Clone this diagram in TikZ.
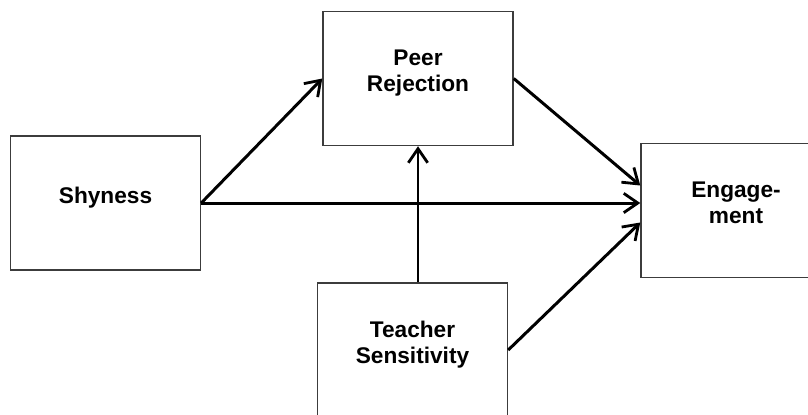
\documentclass[tikz,border=0pt]{standalone}
\usepackage{fontspec}
\setmainfont{Liberation Sans}
\usepackage{tikz}
\usetikzlibrary{arrows.meta, positioning, calc}
\definecolor{boxline}{RGB}{60,60,60}

\begin{document}
\begin{tikzpicture}[x=0.02cm, y=-0.02cm,
    varbox/.style={draw=boxline, line width=0.85pt, fill=white,
                   minimum width=3.8cm, minimum height=2.68cm, text depth=0.3cm,
                   align=center, font=\fontsize{12.9}{15}\selectfont\bfseries},
    path/.style={line width=1.7pt, -{Straight Barb[length=8pt, width=11pt, line width=1.6pt]}}]
    % frame
    \useasboundingbox (0,0) rectangle (808,414);
    \clip (0,0) rectangle (808,414);
    \fill[white] (0,0) rectangle (808,414);
    % variables
    \node[varbox] (shy) at (105.5,203) {Shyness};
    \node[varbox] (peer) at (418,78.5) {Peer\\Rejection};
    \node[varbox] (teach) at (412.5,350) {Teacher\\Sensitivity};
    \node[varbox] (eng) at (736,210.5) {Engage-\\ment};
    % paths
    \draw[path] (shy.east) -- (peer.west);
    \draw[path] (shy.east) -- (shy.east -| eng.west);
    \draw[path] (peer.east) -- ($(eng.west)+(0,-25)$);
    \draw[path] (peer.south |- teach.north) -- (peer.south);
    \draw[path] (teach.east) -- ($(eng.west)+(0,12)$);
\end{tikzpicture}
\end{document}
